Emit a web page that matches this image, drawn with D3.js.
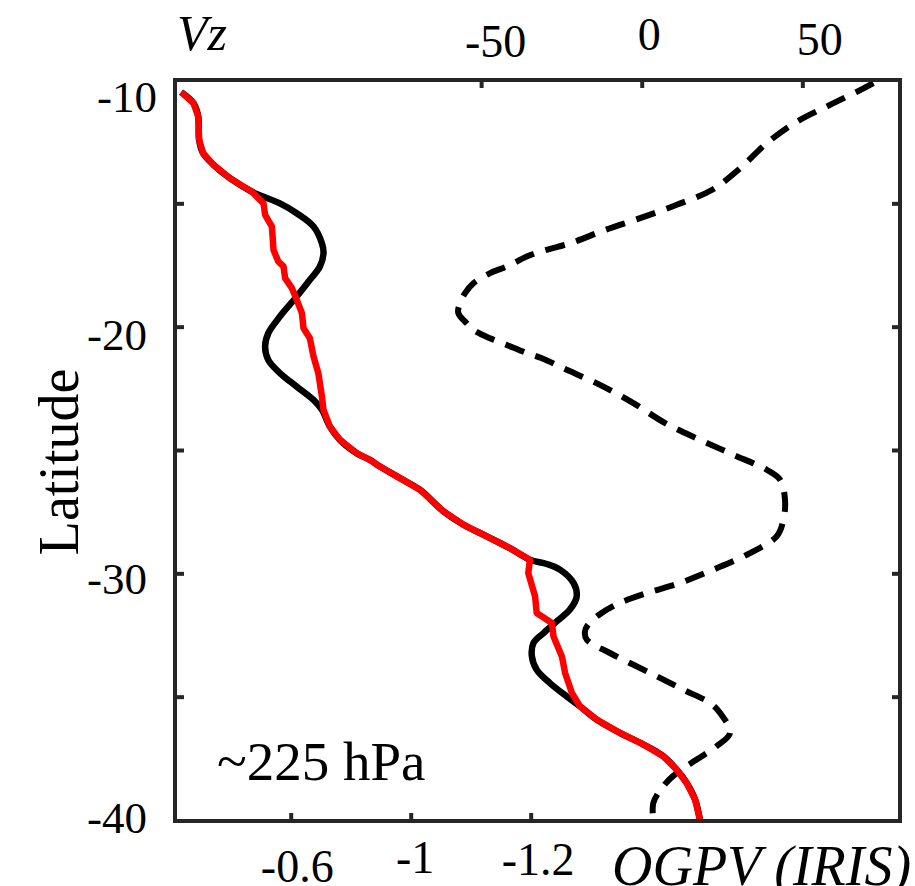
<!DOCTYPE html>
<html>
<head>
<meta charset="utf-8">
<script src="https://cdn.jsdelivr.net/npm/d3@7"></script>
<style>
  html, body { margin: 0; padding: 0; background: #fff; }
  svg { display: block; }
  text { font-family: "Liberation Serif", "Times New Roman", Times, serif; fill: #000; }
</style>
</head>
<body>
<svg id="chart" width="915" height="886"></svg>
<script>
// Meridional profile at ~225 hPa: Vz (bottom axis) and OGPV from IRIS (top axis) vs latitude.

// Vz profile, [latitude, Vz]
const vzRed = [
  [-10.49,-0.326],[-10.94,-0.357],[-11.49,-0.369],[-12.43,-0.371],[-12.97,-0.381],[-13.44,-0.407],
  [-13.98,-0.448],[-14.53,-0.503],[-15.00,-0.532],[-15.47,-0.536],[-15.94,-0.553],[-16.89,-0.557],
  [-17.36,-0.569],[-17.56,-0.582],[-18.03,-0.586],[-18.44,-0.603],[-18.91,-0.615],[-19.45,-0.628],
  [-20.06,-0.632],[-20.47,-0.648],[-21.21,-0.657],[-21.88,-0.669],[-22.83,-0.678],[-23.37,-0.682],
  [-24.05,-0.698],[-24.59,-0.723],[-25.13,-0.765],[-25.40,-0.798],[-25.67,-0.823],[-26.14,-0.873],
  [-26.61,-0.923],[-27.49,-0.982],[-28.03,-1.032],[-28.50,-1.090],[-28.98,-1.148],[-29.45,-1.198],
  [-29.99,-1.194],[-30.94,-1.211],[-31.61,-1.215],[-32.01,-1.253],[-32.56,-1.257],[-33.37,-1.278],
  [-34.04,-1.286],[-34.85,-1.303],[-35.39,-1.323],[-35.93,-1.365],[-36.47,-1.423],[-36.94,-1.482],
  [-37.42,-1.532],[-37.96,-1.565],[-38.50,-1.590],[-39.17,-1.611],[-39.98,-1.623]
];

// Vz profile, smooth (black), [latitude, Vz]
const vzBlack = [
  [-10.49,-0.326],[-10.94,-0.357],[-11.49,-0.369],[-12.43,-0.371],[-12.97,-0.381],[-13.44,-0.407],
  [-13.98,-0.448],[-14.53,-0.503],[-15.00,-0.573],[-15.40,-0.615],[-15.94,-0.657],[-16.62,-0.678],
  [-17.02,-0.682],[-17.56,-0.673],[-18.10,-0.648],[-18.78,-0.615],[-19.59,-0.573],[-20.26,-0.544],
  [-20.81,-0.536],[-21.35,-0.544],[-21.88,-0.573],[-22.43,-0.615],[-22.97,-0.657],[-23.37,-0.678],
  [-24.05,-0.698],[-24.59,-0.723],[-25.13,-0.765],[-25.40,-0.798],[-25.67,-0.823],[-26.14,-0.873],
  [-26.61,-0.923],[-27.49,-0.982],[-28.03,-1.032],[-28.50,-1.090],[-28.98,-1.148],[-29.45,-1.198],
  [-29.62,-1.240],[-29.85,-1.273],[-30.39,-1.307],[-30.94,-1.315],[-31.47,-1.298],[-31.95,-1.265],
  [-32.42,-1.232],[-32.82,-1.207],[-33.37,-1.203],[-33.91,-1.215],[-34.45,-1.248],[-34.99,-1.290],
  [-35.39,-1.323],[-35.93,-1.365],[-36.47,-1.423],[-36.94,-1.482],[-37.42,-1.532],[-37.96,-1.565],
  [-38.50,-1.590],[-39.17,-1.611],[-39.98,-1.623]
];

// OGPV (IRIS), [latitude, OGPV]
const ogpv = [
  [-10.13,72.1],[-10.41,68.0],[-11.01,58.6],[-11.69,48.3],[-12.56,38.9],[-13.58,30.6],
  [-14.46,21.8],[-15.06,10.9],[-15.60,-0.5],[-16.08,-11.4],[-16.62,-22.3],[-16.96,-31.7],
  [-17.16,-35.8],[-17.56,-42.0],[-17.83,-47.2],[-18.24,-52.4],[-18.64,-55.0],[-19.05,-56.6],
  [-19.45,-57.1],[-19.86,-54.5],[-20.13,-52.4],[-20.47,-47.2],[-20.74,-42.0],[-21.07,-35.8],
  [-21.28,-31.1],[-21.75,-23.3],[-22.36,-13.0],[-23.10,-2.6],[-23.91,7.3],[-24.59,18.2],
  [-25.19,28.5],[-25.80,38.9],[-26.21,43.1],[-27.02,44.6],[-27.83,44.1],[-28.50,42.0],
  [-29.18,33.7],[-29.85,22.3],[-30.39,11.9],[-30.80,1.6],[-31.20,-6.8],[-31.61,-12.5],
  [-32.08,-16.7],[-32.37,-17.7],[-32.69,-17.1],[-33.23,-9.9],[-34.04,2.6],[-34.72,13.0],
  [-35.26,21.3],[-35.66,24.4],[-36.47,27.5],[-37.01,23.3],[-37.55,17.1],[-38.09,10.9],
  [-38.63,6.7],[-39.31,3.6],[-39.98,3.6]
];

// Axes: limits, ticks and labels
const latDomain = [-10, -40];
const latMinorTicks = [-15, -20, -25, -30, -35];
const latLabelTicks = [-10, -20, -30, -40];
const latTickLabels = ["-10", "-20", "-30", "-40"];
const vzDomain = [-0.3107, -2.1233];
const vzTicks = [-0.6, -0.9, -1.2];
const vzTickLabels = ["-0.6", "-1", "-1.2"];
const ogpvDomain = [-145.3, 80.4];
const ogpvTicks = [-50, 0, 50];
const ogpvTickLabels = ["-50", "0", "50"];

const svg = d3.select("#chart");
const W = 915, H = 886;
svg.append("rect").attr("width", W).attr("height", H).attr("fill", "#fff");

const box = { left: 175, right: 900, top: 80, bottom: 821 };
const frameColor = "#262626";

const y = d3.scaleLinear().domain(latDomain).range([box.top, 820]);
const xVz = d3.scaleLinear().domain(vzDomain).range([box.left, box.right]);
const xOg = d3.scaleLinear().domain(ogpvDomain).range([box.left, box.right]);

svg.append("clipPath").attr("id", "plotClip")
  .append("rect")
  .attr("x", box.left).attr("y", box.top)
  .attr("width", box.right - box.left).attr("height", box.bottom - box.top);

const plot = svg.append("g").attr("clip-path", "url(#plotClip)");

// OGPV, dashed
plot.append("path")
  .datum(ogpv)
  .attr("fill", "none")
  .attr("stroke", "#000")
  .attr("stroke-width", 6)
  .attr("stroke-dasharray", "20,12")
  .attr("d", d3.line().x(d => xOg(d[1])).y(d => y(d[0])).curve(d3.curveCatmullRom.alpha(0.5)));

// Vz, smooth black
plot.append("path")
  .datum(vzBlack)
  .attr("fill", "none")
  .attr("stroke", "#000")
  .attr("stroke-width", 6.5)
  .attr("stroke-linejoin", "round")
  .attr("d", d3.line().x(d => xVz(d[1])).y(d => y(d[0])).curve(d3.curveCatmullRom.alpha(0.5)));

// Vz, red
plot.append("path")
  .datum(vzRed)
  .attr("fill", "none")
  .attr("stroke", "#ff0000")
  .attr("stroke-width", 6.5)
  .attr("stroke-linejoin", "round")
  .attr("d", d3.line().x(d => xVz(d[1])).y(d => y(d[0])));

// Inward tick marks on all four sides
function tickStyle(g) {
  g.select(".domain").remove();
  g.selectAll(".tick line").attr("stroke", frameColor).attr("stroke-width", 4);
  g.selectAll(".tick text").remove();
}
svg.append("g").attr("transform", `translate(${box.left},0)`)
  .call(d3.axisLeft(y).tickValues(latMinorTicks).tickSize(-9)).call(tickStyle);
svg.append("g").attr("transform", `translate(${box.right},0)`)
  .call(d3.axisRight(y).tickValues(latMinorTicks).tickSize(-8)).call(tickStyle);
svg.append("g").attr("transform", `translate(0,${box.top})`)
  .call(d3.axisTop(xOg).tickValues(ogpvTicks).tickSize(-8)).call(tickStyle);
svg.append("g").attr("transform", `translate(0,${box.bottom})`)
  .call(d3.axisBottom(xVz).tickValues(vzTicks).tickSize(-8)).call(tickStyle);

// Frame
svg.append("rect")
  .attr("x", box.left).attr("y", box.top)
  .attr("width", box.right - box.left).attr("height", box.bottom - box.top)
  .attr("fill", "none").attr("stroke", frameColor).attr("stroke-width", 4);

// Tick labels (hand-placed in the figure, so each gets a small nudge)
function labelStyle(nudges, size) {
  return g => {
    g.select(".domain").remove();
    g.selectAll(".tick line").remove();
    g.selectAll(".tick text")
      .attr("font-family", '"Liberation Serif", "Times New Roman", serif')
      .attr("font-size", size)
      .attr("fill", "#000")
      .each(function(d, i) {
        const n = nudges[i];
        d3.select(this).attr("dx", n[0]).attr("dy", n[1]);
      });
  };
}

svg.append("g").attr("transform", `translate(${box.left},0)`)
  .call(d3.axisLeft(y).tickValues(latLabelTicks).tickSize(0).tickPadding(28)
    .tickFormat((d, i) => latTickLabels[i]))
  .call(labelStyle([[10, 31], [0, 23], [0, 20], [0, 12]], 45));

svg.append("g").attr("transform", `translate(0,${box.top})`)
  .call(d3.axisTop(xOg).tickValues(ogpvTicks).tickSize(0).tickPadding(0)
    .tickFormat((d, i) => ogpvTickLabels[i]))
  .call(labelStyle([[14, -23], [7, -30], [17, -25]], 46));

svg.append("g").attr("transform", `translate(0,${box.bottom})`)
  .call(d3.axisBottom(xVz).tickValues(vzTicks).tickSize(0).tickPadding(0)
    .tickFormat((d, i) => vzTickLabels[i]))
  .call(labelStyle([[6, 61], [4, 52], [7, 54]], 46));

// Axis titles and annotation
svg.append("text")
  .attr("x", 177).attr("y", 50)
  .attr("font-size", 50).attr("font-style", "italic")
  .text("Vz");

svg.append("text")
  .attr("transform", "translate(78,462) rotate(-90)")
  .attr("text-anchor", "middle")
  .attr("font-size", 56)
  .text("Latitude");

svg.append("text")
  .attr("x", 612).attr("y", 885)
  .attr("font-size", 56).attr("font-style", "italic")
  .text("OGPV (IRIS)");

svg.append("text")
  .attr("x", 217).attr("y", 780)
  .attr("font-size", 55)
  .text("~225 hPa");
</script>
</body>
</html>
